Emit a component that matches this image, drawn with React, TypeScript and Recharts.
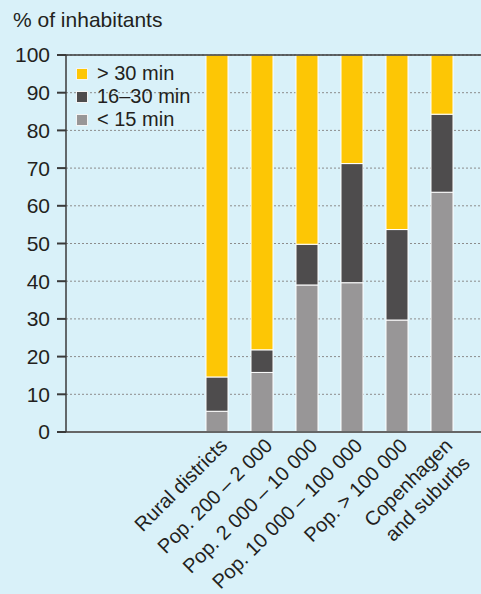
import React from 'react';
import {
  BarChart,
  Bar,
  XAxis,
  YAxis,
  CartesianGrid,
  ReferenceLine,
} from 'recharts';

const categories = [
  'Rural districts',
  'Pop. 200 – 2 000',
  'Pop. 2 000 – 10 000',
  'Pop. 10 000 – 100 000',
  'Pop. > 100 000',
  'Copenhagen\nand suburbs',
];
const under15 = [5.5, 15.8, 39.0, 39.6, 29.7, 63.6];
const from16to30 = [9.1, 6.0, 10.8, 31.6, 24.0, 20.7];
const over30 = [85.4, 78.2, 50.2, 28.8, 46.3, 15.7];
const yTicks = [0, 10, 20, 30, 40, 50, 60, 70, 80, 90, 100];

const legendItems = [
  { label: '> 30 min', color: '#fdc605' },
  { label: '16–30 min', color: '#4e4c4d' },
  { label: '< 15 min', color: '#989697' },
];

const data = categories.map((name, i) => ({
  name,
  under15: under15[i],
  mid: from16to30[i],
  over30: over30[i],
}));

const FONT = '"Liberation Sans", Arial, Helvetica, sans-serif';

// rotated category labels, end of the text sits just below-right of the bar
const XTick = (props: any) => {
  const { x, y, payload } = props;
  const lines = String(payload.value).split('\n');
  const lh = 25;
  return (
    <g transform={`translate(${x + 12},${y + 15})`}>
      <text
        transform="rotate(-45)"
        textAnchor="end"
        fontSize={20}
        fontFamily={FONT}
        fill="#231f20"
      >
        {lines.map((l, i) => (
          <tspan key={i} x={0} y={i * lh}>
            {l}
          </tspan>
        ))}
      </text>
    </g>
  );
};

const LegendBox = () => (
  <div
    style={{
      position: 'absolute',
      left: 76,
      top: 62,
      fontFamily: FONT,
      fontSize: 20,
      color: '#231f20',
    }}
  >
    {legendItems.map((it) => (
      <div
        key={it.label}
        style={{ display: 'flex', alignItems: 'center', height: 23, lineHeight: '23px' }}
      >
        <span
          style={{
            display: 'inline-block',
            width: 10,
            height: 10,
            background: it.color,
            border: '1px solid #f4f4f4',
            marginRight: 9,
          }}
        />
        {it.label}
      </div>
    ))}
  </div>
);

export default function App() {
  return (
    <div
      style={{
        position: 'relative',
        width: 481,
        height: 594,
        background: '#d9f1f9',
        fontFamily: FONT,
      }}
    >
      <style>{`body{margin:0}`}</style>
      <div
        style={{
          position: 'absolute',
          left: 13,
          top: 9,
          fontSize: 21,
          lineHeight: '21px',
          color: '#231f20',
        }}
      >
        % of inhabitants
      </div>
      <BarChart
        width={481}
        height={594}
        data={data}
        margin={{ top: 55, right: 0, bottom: 12, left: 0 }}
      >
        <CartesianGrid
          vertical={false}
          stroke="#8c8c8c"
          strokeDasharray="2 2"
        />
        <XAxis
          dataKey="name"
          interval={0}
          height={150}
          tickSize={0}
          tickMargin={0}
          tickLine={false}
          axisLine={{ stroke: '#666', strokeWidth: 2 }}
          padding={{ left: 128, right: 17 }}
          tick={<XTick />}
        />
        <YAxis
          domain={[0, 100]}
          ticks={yTicks}
          width={66}
          tickSize={9}
          tickMargin={7}
          interval={0}
          axisLine={{ stroke: '#3a3a3a', strokeWidth: 1.5 }}
          tickLine={{ stroke: '#3a3a3a', strokeWidth: 2 }}
          tick={{ fill: '#231f20', fontSize: 21, fontFamily: FONT }}
        />
        <ReferenceLine y={100} stroke="#3a3a3a" strokeWidth={1.5} />
        <Bar
          dataKey="under15"
          stackId="a"
          fill="#989697"
          stroke="#ffffff"
          strokeWidth={1}
          barSize={22}
          isAnimationActive={false}
        />
        <Bar
          dataKey="mid"
          stackId="a"
          fill="#4e4c4d"
          stroke="#ffffff"
          strokeWidth={1}
          barSize={22}
          isAnimationActive={false}
        />
        <Bar
          dataKey="over30"
          stackId="a"
          fill="#fdc605"
          stroke="#ffffff"
          strokeWidth={1}
          barSize={22}
          isAnimationActive={false}
        />
      </BarChart>
      <LegendBox />
    </div>
  );
}
